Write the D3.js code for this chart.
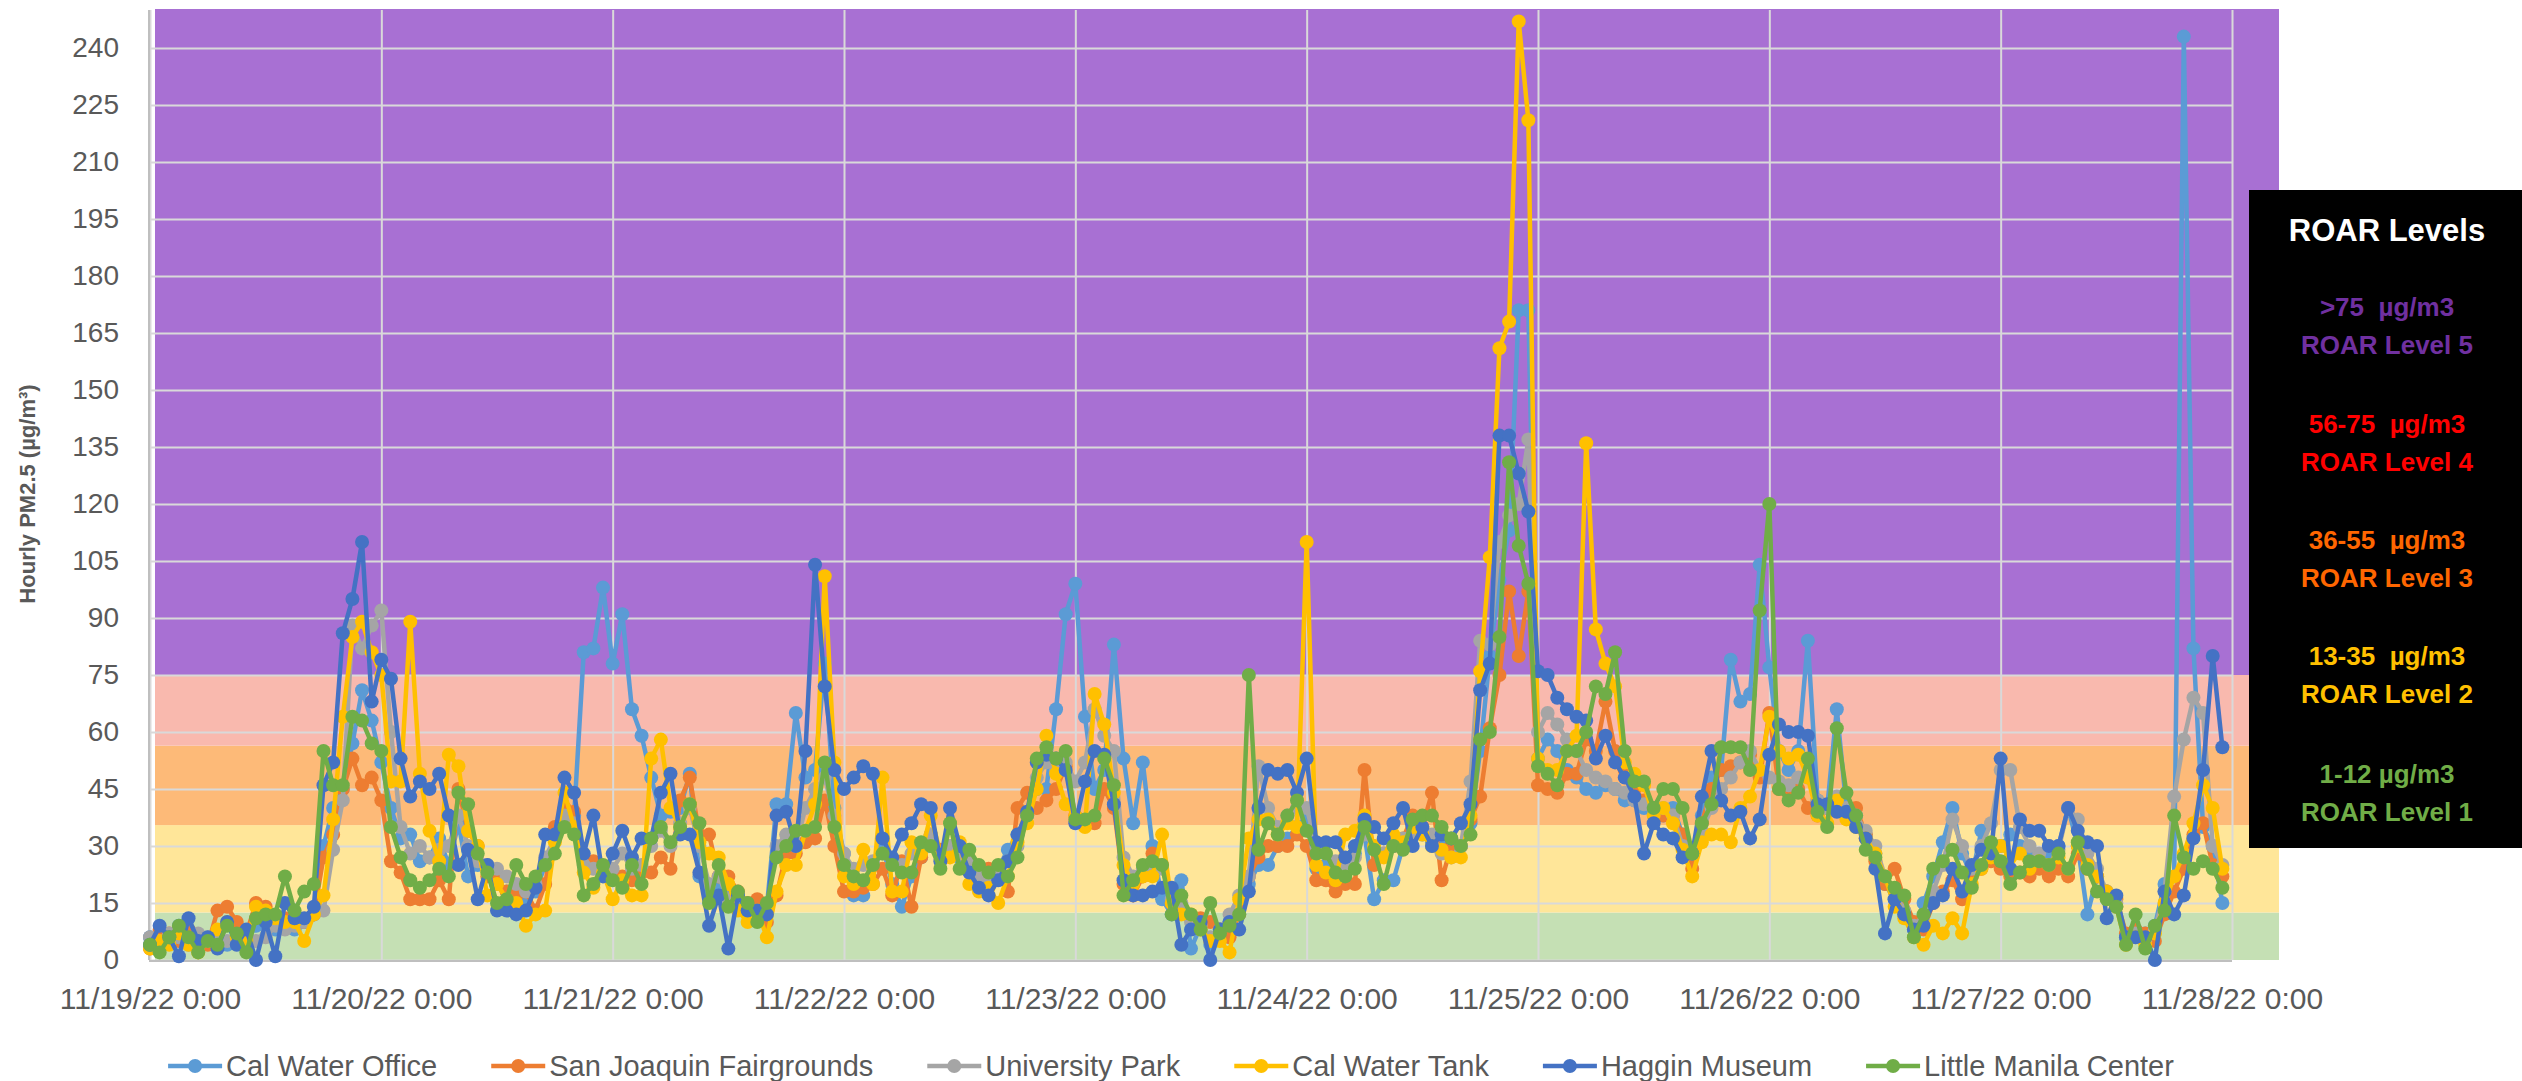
<!DOCTYPE html>
<html><head><meta charset="utf-8">
<script src="https://cdn.jsdelivr.net/npm/d3@7"></script>
<style>body{margin:0;background:#fff;} svg{display:block;} text{white-space:pre;}</style>
</head><body>
<svg id="chart" width="2522" height="1081"></svg>
<script>
// ---------------- DATA ----------------
const seriesNames = ["Cal Water Office","San Joaquin Fairgrounds","University Park","Cal Water Tank","Haggin Museum","Little Manila Center"];
const startTime = "2022-11-19T00:00";
const calWaterOffice = [
 6,7,5,9,8,4,5,6,4,8,5,9,10,8,9,8,10,12,30,40,45,57,71,63,
 52,40,32,33,26,27,32,25,36,22,25,24,20,18,17,16,18,25,33,37,38,81,82,98,
 78,91,66,59,48,38,39,40,49,22,17,20,18,15,14,12,14,41,41,65,48,50,78,40,
 28,17,17,25,30,20,14,22,27,30,28,30,27,24,20,22,24,29,33,38,45,45,66,91,
 99,64,45,50,83,53,36,52,30,16,12,21,3,9,4,8,10,12,20,25,25,30,32,35,
 38,24,25,22,25,28,33,16,21,21,30,34,33,31,30,28,30,36,55,80,100,113,171,171,
 53,58,55,50,48,45,44,46,45,42,42,40,39,38,40,33,28,38,48,50,79,68,70,104,
 77,55,50,55,84,42,40,66,40,38,33,28,20,16,12,8,15,22,31,40,28,22,34,28,
 30,33,30,28,26,28,30,40,30,12,22,18,14,6,8,7,9,20,22,243,82,35,30,15];
const sanJoaquinFairgrounds = [
 3,8,7,5,8,6,4,13,14,10,7,15,14,10,11,12,10,12,27,33,45,53,46,48,
 42,26,23,16,16,16,21,16,45,34,30,22,21,18,17,18,13,20,35,40,39,27,26,24,
 23,22,21,23,23,27,24,42,48,33,33,22,22,18,15,16,10,17,28,28,31,32,42,30,
 18,18,19,20,24,17,26,14,27,33,29,28,28,26,23,24,22,18,40,44,40,42,45,51,
 38,36,36,45,40,20,17,22,28,25,15,14,11,11,10,8,6,12,22,27,30,30,30,33,
 30,21,21,18,20,20,50,25,28,30,32,38,35,44,21,30,30,37,43,61,75,97,80,97,
 46,45,44,49,49,58,55,68,55,50,45,42,40,38,38,33,24,36,45,50,51,52,54,48,
 65,45,44,45,40,38,40,41,38,40,33,26,20,24,16,10,8,15,18,21,16,22,24,26,
 24,22,23,22,24,22,24,22,28,24,22,18,16,7,8,7,5,12,18,24,33,36,25,22];
const universityPark = [
 6,5,7,6,4,7,6,5,5,6,4,5,6,9,8,9,10,12,13,29,42,88,82,88,
 92,60,35,28,30,27,29,30,38,30,26,25,24,22,20,18,20,27,32,38,36,25,24,23,
 24,28,24,25,30,34,30,36,40,30,20,22,16,17,14,12,14,30,33,30,40,45,48,38,
 28,24,25,26,28,25,25,28,30,33,28,30,28,26,22,22,24,26,30,38,48,52,50,52,
 47,52,66,59,55,27,22,24,25,24,16,15,10,9,6,8,12,17,22,51,40,35,38,40,
 40,30,28,26,25,27,33,30,28,30,32,33,34,33,28,27,30,47,84,83,110,117,120,137,
 60,65,62,58,55,50,48,47,45,44,42,41,40,40,38,30,28,34,40,45,48,52,55,50,
 48,47,46,48,48,42,40,43,40,38,34,30,22,18,13,9,10,18,25,37,30,24,30,36,
 50,50,35,30,28,30,29,40,37,28,24,18,15,6,7,5,8,18,43,58,69,65,30,25];
const calWaterTank = [
 3,5,4,7,4,2,5,8,10,6,5,14,13,11,10,10,5,12,17,37,64,85,89,81,
 75,47,47,89,49,34,26,54,51,34,30,17,20,16,15,9,12,13,31,44,35,23,19,23,
 16,21,17,17,53,58,40,35,41,31,28,27,20,13,10,13,6,18,25,25,34,41,101,52,
 22,20,29,20,48,18,18,31,28,38,28,27,31,20,18,19,15,22,31,36,45,59,49,41,
 38,35,70,62,44,25,20,22,22,33,15,12,12,8,5,5,2,16,32,37,37,33,36,35,
 110,25,23,21,33,34,38,30,27,33,31,35,33,30,29,27,27,38,76,106,161,168,247,221,
 53,50,50,55,59,136,87,78,72,52,49,46,38,40,36,29,22,31,33,33,31,40,43,50,
 64,55,53,54,48,38,36,42,37,35,32,28,22,14,11,6,4,9,7,11,7,20,24,27,
 30,27,28,24,26,25,27,24,30,25,22,18,14,4,6,4,7,15,22,28,36,46,40,24];
const hagginMuseum = [
 4,9,6,1,11,5,6,3,10,4,8,0,10,1,15,11,11,14,46,52,86,95,110,68,
 79,74,53,43,47,45,49,38,25,29,16,25,13,13,12,13,19,33,33,48,44,28,38,22,
 28,34,27,32,32,44,49,33,33,23,9,17,3,17,13,13,12,38,39,30,55,104,72,50,
 45,48,51,49,32,27,33,36,41,40,26,40,30,23,19,17,21,26,33,39,52,54,53,50,
 36,47,55,54,41,21,17,17,18,19,19,4,8,10,0,8,10,8,18,40,50,49,50,44,
 53,31,31,31,27,30,37,35,32,36,40,30,35,30,33,32,36,41,71,78,138,138,128,118,
 76,75,69,66,64,63,53,59,52,48,43,28,36,33,32,27,28,43,55,42,38,39,32,37,
 54,62,60,60,59,41,41,39,39,35,32,24,7,16,12,8,9,15,17,24,18,25,29,28,
 53,24,37,34,34,30,30,40,34,31,30,11,17,6,6,6,0,18,12,17,32,50,80,56];
const littleManilaCenter = [
 4,2,6,9,6,2,5,4,9,7,2,11,12,12,22,13,18,20,55,46,46,64,63,57,
 55,35,27,21,19,21,24,22,44,41,28,23,15,16,25,20,22,25,28,35,33,17,20,25,
 21,19,25,20,32,35,31,35,41,36,15,25,14,18,15,10,15,27,30,34,34,35,52,35,
 25,22,21,25,28,25,23,23,31,30,24,36,24,29,25,23,25,22,27,38,53,56,53,55,
 37,37,38,53,46,17,21,25,26,25,12,17,12,8,15,7,9,12,75,29,36,33,38,42,
 34,28,28,23,22,24,35,29,20,30,29,37,38,38,35,32,30,33,58,60,85,131,109,99,
 51,49,46,55,55,60,72,70,81,55,47,47,40,45,45,40,28,36,41,56,56,56,50,92,
 120,45,42,44,53,39,35,61,44,38,29,27,22,19,17,6,12,24,26,29,23,19,25,31,
 26,20,23,26,26,25,28,24,31,24,18,16,14,4,12,3,9,13,38,27,24,26,24,19];
const xTickLabels = ["11/19/22 0:00","11/20/22 0:00","11/21/22 0:00","11/22/22 0:00","11/23/22 0:00","11/24/22 0:00","11/25/22 0:00","11/26/22 0:00","11/27/22 0:00","11/28/22 0:00"];
const yTickValues = [0,15,30,45,60,75,90,105,120,135,150,165,180,195,210,225,240];
const yMax = 250;
const bandLimits = [0,12.5,35.5,56.4,75,250];
const roarTitle = "ROAR Levels";
const roarRanges = [">75  µg/m3","56-75  µg/m3","36-55  µg/m3","13-35  µg/m3","1-12 µg/m3"];
const roarNames = ["ROAR Level 5","ROAR Level 4","ROAR Level 3","ROAR Level 2","ROAR Level 1"];
const yTitle = "Hourly PM2.5 (µg/m³)";

// ---------------- STYLE ----------------
const seriesColors = ["#5B9BD5","#ED7D31","#A5A5A5","#FFC000","#4472C4","#70AD47"];
const bandColors = ["#C5E0B4","#FFE699","#FDBA78","#F9B9AE","#A870D3"];
const roarColors = ["#7030A0","#FF0000","#FF6600","#FFC000","#70AD47"];
const FONT = "'Liberation Sans', Arial, sans-serif";
const TXT = "#595959";
const GRID = "#D9D9D9";

const allSeries = [calWaterOffice, sanJoaquinFairgrounds, universityPark, calWaterTank, hagginMuseum, littleManilaCenter];

const svg = d3.select("#chart");
const pL = 150, pR = 2232, pT = 10, pB = 960;
const t0 = new Date(startTime);
const times = calWaterOffice.map((_, i) => d3.timeHour.offset(t0, i));
const tickDates = xTickLabels.map((_, i) => d3.timeDay.offset(t0, i));
const x = d3.scaleTime().domain([tickDates[0], tickDates[tickDates.length-1]]).range([pL, pR]);
const y = d3.scaleLinear().domain([0, yMax]).range([pB, pT]);

// Background bands
const bandG = svg.append("g");
for (let i = 0; i < bandColors.length; i++) {
  bandG.append("rect")
    .attr("x", 155).attr("width", 2279 - 155)
    .attr("y", y(bandLimits[i+1]) - (i === bandColors.length-1 ? 1 : 0))
    .attr("height", y(bandLimits[i]) - y(bandLimits[i+1]) + (i === bandColors.length-1 ? 1 : 0))
    .attr("fill", bandColors[i]);
}

// Gridlines
const gridY = svg.append("g").attr("transform", `translate(${pL},0)`)
  .call(d3.axisLeft(y).tickValues(yTickValues).tickSize(-(pR-pL)).tickFormat(""));
gridY.select(".domain").remove();
gridY.selectAll("line").attr("stroke", GRID).attr("stroke-width", 2);
const gridX = svg.append("g").attr("transform", `translate(0,${pB})`)
  .call(d3.axisBottom(x).tickValues(tickDates).tickSize(-(pB-pT)).tickFormat(""));
gridX.select(".domain").remove();
gridX.selectAll("line").attr("stroke", GRID).attr("stroke-width", 2);

// Axis lines
svg.append("line").attr("x1", pL-1).attr("x2", pL-1).attr("y1", pT).attr("y2", pB).attr("stroke", "#BFBFBF").attr("stroke-width", 2);
svg.append("line").attr("x1", pL-1).attr("x2", pR).attr("y1", pB+1).attr("y2", pB+1).attr("stroke", "#BFBFBF").attr("stroke-width", 2);

// Y tick labels
const yAx = svg.append("g").attr("transform", `translate(${pL},0)`)
  .call(d3.axisLeft(y).tickValues(yTickValues).tickSize(0).tickPadding(31));
yAx.select(".domain").remove();
yAx.selectAll("text").attr("font-family", FONT).attr("font-size", 28).attr("fill", TXT);

// X tick labels
const xAx = svg.append("g").attr("transform", `translate(0,${pB})`)
  .call(d3.axisBottom(x).tickValues(tickDates).tickSize(0).tickPadding(28).tickFormat((d, i) => xTickLabels[i]));
xAx.select(".domain").remove();
xAx.selectAll("text").attr("font-family", FONT).attr("font-size", 30).attr("fill", TXT);

// Y title
svg.append("text").attr("transform", `translate(35,494) rotate(-90)`)
  .attr("text-anchor", "middle").attr("font-family", FONT).attr("font-size", 22).attr("font-weight", "bold")
  .attr("fill", TXT).text(yTitle);

// Series
const line = d3.line().x((d, i) => x(times[i])).y(d => y(d));
allSeries.forEach((s, k) => {
  const g = svg.append("g");
  g.append("path").datum(s).attr("d", line).attr("fill", "none")
    .attr("stroke", seriesColors[k]).attr("stroke-width", 4.5).attr("stroke-linejoin", "round");
  g.selectAll("circle").data(s).join("circle")
    .attr("cx", (d, i) => x(times[i])).attr("cy", d => y(d)).attr("r", 7)
    .attr("fill", seriesColors[k]);
});

// Legend
const legG = svg.append("g");
const legY = 1066;
const items = [];
seriesNames.forEach((n, k) => {
  const it = legG.append("g");
  it.append("line").attr("x1", 0).attr("x2", 54).attr("y1", 0).attr("y2", 0).attr("stroke", seriesColors[k]).attr("stroke-width", 4.5);
  it.append("circle").attr("cx", 27).attr("cy", 0).attr("r", 7).attr("fill", seriesColors[k]);
  const t = it.append("text").attr("x", 58).attr("y", 0).attr("dy", "0.35em")
    .attr("font-family", FONT).attr("font-size", 29).attr("fill", TXT).text(n);
  items.push({it, w: 58 + t.node().getComputedTextLength()});
});
const gap = 54;
const total = d3.sum(items, d => d.w) + gap * (items.length - 1);
let lx = 1171 - total / 2;
items.forEach(d => { d.it.attr("transform", `translate(${lx},${legY})`); lx += d.w + gap; });

// ROAR box
svg.append("rect").attr("x", 2249).attr("y", 190).attr("width", 2522-2249).attr("height", 848-190).attr("fill", "#000");
const bx = 2387;
svg.append("text").attr("x", bx).attr("y", 241).attr("text-anchor", "middle")
  .attr("font-family", FONT).attr("font-size", 31).attr("font-weight", "bold").attr("fill", "#fff").text(roarTitle);
const rangeBase = [316, 433, 549, 665, 783];
roarRanges.forEach((r, i) => {
  svg.append("text").attr("x", bx).attr("y", rangeBase[i]).attr("text-anchor", "middle")
    .attr("font-family", FONT).attr("font-size", 26).attr("font-weight", "bold").attr("fill", roarColors[i]).text(r);
  svg.append("text").attr("x", bx).attr("y", rangeBase[i] + 38).attr("text-anchor", "middle")
    .attr("font-family", FONT).attr("font-size", 26).attr("font-weight", "bold").attr("fill", roarColors[i]).text(roarNames[i]);
});
</script>
</body></html>
